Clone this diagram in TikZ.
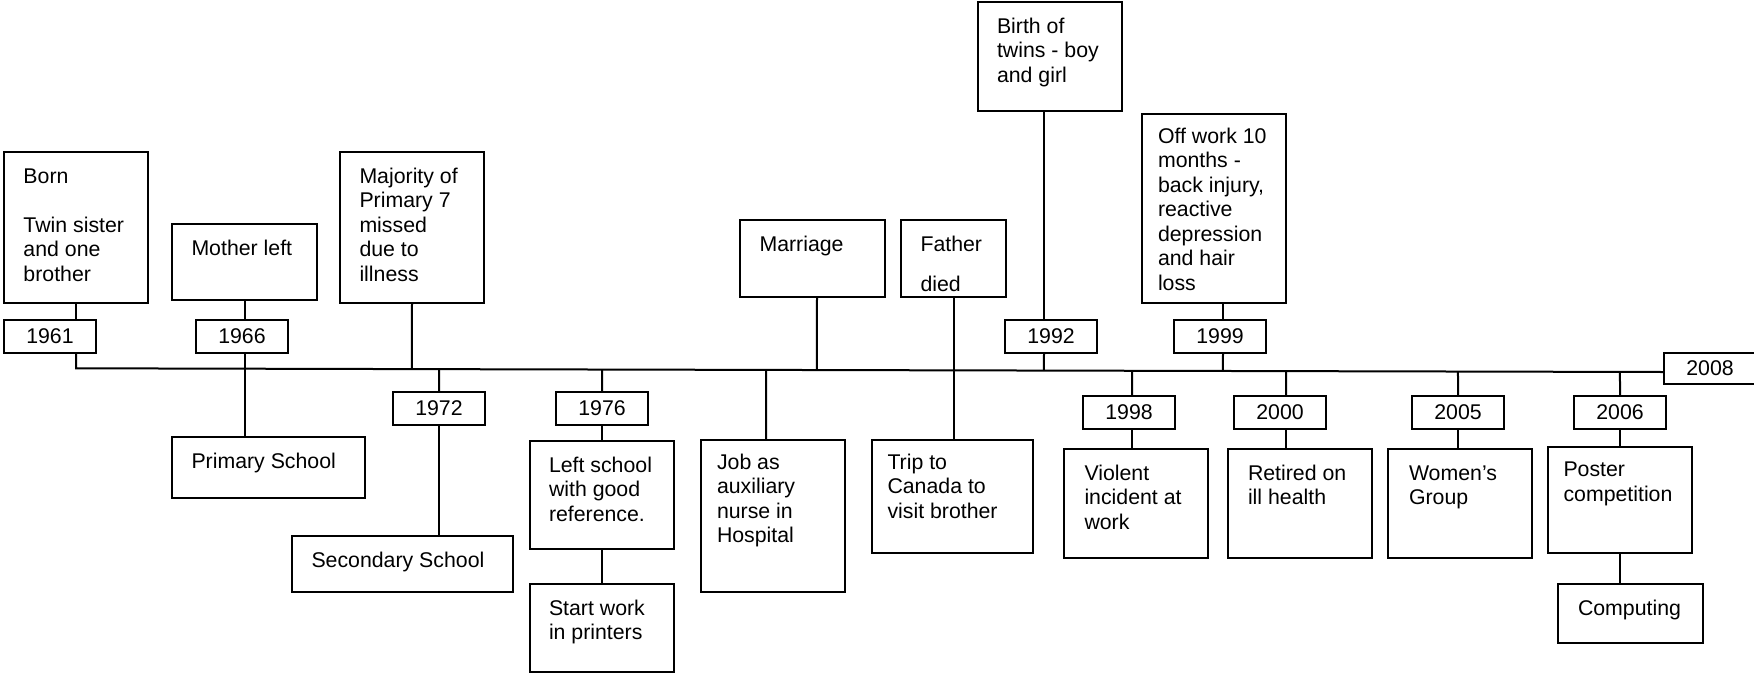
\documentclass[tikz,border=0pt]{standalone}
\usepackage{fontspec}
\setmainfont{Liberation Sans}
\usetikzlibrary{calc}

% Box body: width, height, left indent, gap above first line, lines
\newcommand\evbody[5]{%
  \parbox[c][#2][t]{#1}{\raggedright\leftskip=#3\relax\parindent=0pt
    \vspace*{#4}\strut#5\par}}

\tikzset{
  evbox/.style={draw, line width=2pt, inner sep=0pt, outer sep=0pt,
    anchor=north west, font=\fontsize{21.3pt}{24.5pt}\selectfont},
  yearbox/.style={draw, line width=2pt, inner sep=0pt, outer sep=0pt,
    anchor=north west, minimum width=92pt, minimum height=33pt,
    font=\fontsize{21.3pt}{24.5pt}\selectfont},
  link/.style={line width=2pt}
}

\begin{document}
\begin{tikzpicture}[x=1pt,y=-1pt]
\useasboundingbox (0,0) rectangle (1754,673);

% events above the line
\node[evbox] (born)     at (4,152)    {\evbody{144pt}{151pt}{19.5pt}{13.9pt}{Born\\\mbox{}\\Twin sister\\and one\\brother}};
\node[evbox] (mother)   at (172,224)  {\evbody{145pt}{76pt}{19.5pt}{13.9pt}{Mother left}};
\node[evbox] (majority) at (340,152)  {\evbody{144pt}{151pt}{19.5pt}{13.9pt}{Majority of\\Primary 7\\missed\\due to\\illness}};
\node[evbox] (marriage) at (740,220)  {\evbody{145pt}{77pt}{19.5pt}{13.9pt}{Marriage}};
\node[evbox] (father)   at (901,220)  {\evbody{105pt}{77pt}{19.5pt}{13.9pt}{Father\\[16pt]died}};
\node[evbox] (birth)    at (978,2)    {\evbody{144pt}{109pt}{19pt}{13.9pt}{Birth of\\twins - boy\\and girl}};
\node[evbox] (offwork)  at (1142,114) {\evbody{144pt}{189pt}{16pt}{12.3pt}{Off work 10\\months -\\back injury,\\reactive\\depression\\and hair\\loss}};

% events below the line
\node[evbox] (primary)    at (172,437)  {\evbody{193pt}{61pt}{19.5pt}{13.9pt}{Primary School}};
\node[evbox] (secondary)  at (292,536)  {\evbody{221pt}{56pt}{19.5pt}{13.9pt}{Secondary School}};
\node[evbox] (leftschool) at (530,441)  {\evbody{144pt}{108pt}{19pt}{13.9pt}{Left school\\with good\\reference.}};
\node[evbox] (startwork)  at (530,584)  {\evbody{144pt}{88pt}{19pt}{13.9pt}{Start work\\in printers}};
\node[evbox] (job)        at (701,440)  {\evbody{144pt}{152pt}{16pt}{12.3pt}{Job as\\auxiliary\\nurse in\\Hospital}};
\node[evbox] (trip)       at (872,440)  {\evbody{161pt}{113pt}{15.5pt}{12.3pt}{Trip to\\Canada to\\visit brother}};
\node[evbox] (violent)    at (1064,449) {\evbody{144pt}{109pt}{20.5pt}{13.9pt}{Violent\\incident at\\work}};
\node[evbox] (retired)    at (1228,449) {\evbody{144pt}{109pt}{20pt}{13.9pt}{Retired on\\ill health}};
\node[evbox] (women)      at (1388,449) {\evbody{144pt}{109pt}{21pt}{13.9pt}{Women’s\\Group}};
\node[evbox] (poster)     at (1548,447) {\evbody{144pt}{106pt}{15.5pt}{12.5pt}{Poster\\competition}};
\node[evbox] (computing)  at (1558,584) {\evbody{145pt}{59pt}{20pt}{14.2pt}{Computing}};

% year labels
\node[yearbox] (y1961) at (4,320)    {1961};
\node[yearbox] (y1966) at (196,320)  {1966};
\node[yearbox] (y1972) at (393,392)  {1972};
\node[yearbox] (y1976) at (556,392)  {1976};
\node[yearbox] (y1992) at (1005,320) {1992};
\node[yearbox] (y1998) at (1083,396) {1998};
\node[yearbox] (y1999) at (1174,320) {1999};
\node[yearbox] (y2000) at (1234,396) {2000};
\node[yearbox] (y2005) at (1412,396) {2005};
\node[yearbox] (y2006) at (1574,396) {2006};
\node[yearbox, minimum height=31pt] (y2008) at (1664,353) {2008};

% the time line
\coordinate (tl0) at (76,368.3);
\coordinate (tl1) at ([yshift=-3.5pt]y2008.west);
\draw[link] (born.south) -- (born.south |- y1961.north);
\draw[link] (born.south |- y1961.south) -- (tl0) -- (tl1);

% 1966
\draw[link] (mother.south) -- (mother.south |- y1966.north);
\draw[link] (mother.south |- y1966.south) -- (mother.south |- primary.north);
% Primary 7
\draw[link] (majority.south) -- ($(tl0)!(majority.south)!(tl1)$);
% 1972
\draw[link] ($(tl0)!(y1972.north)!(tl1)$) -- (y1972.north);
\draw[link] (y1972.south) -- (y1972.south |- secondary.north);
% 1976
\draw[link] ($(tl0)!(y1976.north)!(tl1)$) -- (y1976.north);
\draw[link] (y1976.south) -- (y1976.south |- leftschool.north);
\draw[link] (leftschool.south) -- (startwork.north);
% marriage and hospital job
\coordinate (mg) at ([xshift=4.5pt]marriage.south);
\draw[link] (mg) -- ($(tl0)!(mg)!(tl1)$);
\coordinate (jb) at ([xshift=-7pt]job.north);
\draw[link] ($(tl0)!(jb)!(tl1)$) -- (jb);
% father and Canada
\draw[link] (father.south) -- (father.south |- trip.north);
% 1992
\coordinate (bt) at ([xshift=-6pt]birth.south);
\draw[link] (bt) -- (bt |- y1992.north);
\draw[link] (bt |- y1992.south) -- ($(tl0)!(bt |- y1992.south)!(tl1)$);
% 1998
\coordinate (t98) at ([xshift=3pt]y1998.north);
\draw[link] ($(tl0)!(t98)!(tl1)$) -- (t98);
\draw[link] (t98 |- y1998.south) -- (t98 |- violent.north);
% 1999
\coordinate (t99) at ([xshift=3pt]y1999.north);
\draw[link] (t99 |- offwork.south) -- (t99);
\draw[link] (t99 |- y1999.south) -- ($(tl0)!(t99 |- y1999.south)!(tl1)$);
% 2000
\coordinate (t00) at ([xshift=6pt]y2000.north);
\draw[link] ($(tl0)!(t00)!(tl1)$) -- (t00);
\draw[link] (t00 |- y2000.south) -- (t00 |- retired.north);
% 2005
\draw[link] ($(tl0)!(y2005.north)!(tl1)$) -- (y2005.north);
\draw[link] (y2005.south) -- (y2005.south |- women.north);
% 2006
\draw[link] ($(tl0)!(y2006.north)!(tl1)$) -- (y2006.north);
\draw[link] (y2006.south) -- (y2006.south |- poster.north);
\draw[link] (y2006.south |- poster.south) -- (y2006.south |- computing.north);
\end{tikzpicture}
\end{document}
